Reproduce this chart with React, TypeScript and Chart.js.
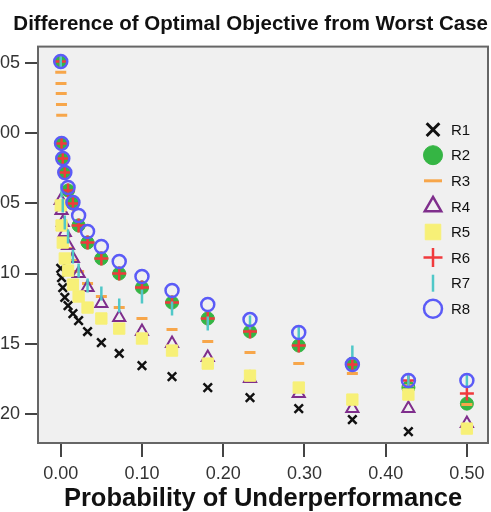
import React, { useEffect, useRef } from 'react';
import { Chart, registerables } from 'chart.js';
import { drawPoint } from 'chart.js/helpers';

Chart.register(...registerables);

const TITLE = 'Difference of Optimal Objective from Worst Case';
const X_TITLE = 'Probability of Underperformance';
const SERIES_NAMES = ['R1', 'R2', 'R3', 'R4', 'R5', 'R6', 'R7', 'R8'];

const X = [0, 0.001, 0.0025, 0.005, 0.009, 0.015, 0.022, 0.033, 0.05, 0.072, 0.1, 0.137, 0.181, 0.233, 0.293, 0.359, 0.428, 0.5];
const X_R3 = [0, 0.0003, 0.0006, 0.0009, 0.0012, 0.005, 0.009, 0.015, 0.022, 0.033, 0.05, 0.072, 0.1, 0.137, 0.181, 0.233, 0.293, 0.359, 0.428, 0.5];

const R1 = [-0.0964, -0.1029, -0.11, -0.1171, -0.1229, -0.1286, -0.1336, -0.1414, -0.1493, -0.1571, -0.1657, -0.1736, -0.1814, -0.1886, -0.1964, -0.2043, -0.2129, -0.2107];
const R2 = [0.0514, -0.0071, -0.0179, -0.0279, -0.0407, -0.05, -0.0657, -0.0779, -0.0893, -0.1, -0.11, -0.1207, -0.1321, -0.1414, -0.1514, -0.1643, -0.1814, -0.1929];
const R3 = [0.0436, 0.0357, 0.0286, 0.0207, 0.0129, -0.0736, -0.0821, -0.0907, -0.0986, -0.1071, -0.1164, -0.1243, -0.1321, -0.14, -0.1486, -0.1564, -0.1643, -0.1714, -0.18, -0.1936];
const R4 = [-0.0479, -0.055, -0.0636, -0.0707, -0.08, -0.0893, -0.1, -0.11, -0.1214, -0.1314, -0.1414, -0.15, -0.16, -0.175, -0.1857, -0.1964, -0.1964, -0.2071];
const R5 = [-0.0514, -0.0657, -0.0779, -0.0893, -0.0979, -0.1079, -0.1164, -0.1243, -0.1321, -0.1393, -0.1464, -0.155, -0.1643, -0.1729, -0.1814, -0.19, -0.1864, -0.2107];
const R6 = [0.0514, -0.0071, -0.0179, -0.0279, -0.0407, -0.05, -0.0657, -0.0779, -0.0893, -0.1, -0.11, -0.1207, -0.1321, -0.1414, -0.1514, -0.165, -0.1764, -0.1857];
const R7 = [0.0514, -0.0407, -0.0514, -0.0636, -0.0736, -0.0879, -0.0979, -0.1086, -0.1143, -0.1229, -0.1164, -0.125, -0.1357, -0.135, -0.1421, -0.1564, -0.1764, -0.1764];
const R8 = [0.0514, -0.0071, -0.0179, -0.0279, -0.0386, -0.0493, -0.0586, -0.07, -0.0807, -0.0914, -0.1021, -0.1121, -0.1221, -0.1329, -0.1421, -0.165, -0.1764, -0.1764];

const X_TICKS = [0, 0.1, 0.2, 0.3, 0.4, 0.5];
const X_TICK_LABELS = ['0.00', '0.10', '0.20', '0.30', '0.40', '0.50'];
const Y_TICKS = [-0.2, -0.15, -0.1, -0.05, 0, 0.05];
const Y_TICK_LABELS = ['-.20', '-.15', '-.10', '-.05', '.00', '.05'];

const SERIES_X = [X, X, X_R3, X, X, X, X, X];
const SERIES_Y = [R1, R2, R3, R4, R5, R6, R7, R8];

const STYLES = [
  { color: '#111111', fill: '#111111', style: 'crossRot', r: 6, bw: 2.5, rot: 0, lr: 9, lbw: 3 },
  { color: '#35b544', fill: '#35b544', style: 'circle', r: 6.5, bw: 1, rot: 0, lr: 9.5, lbw: 1 },
  { color: '#f7a64a', fill: '#f7a64a', style: 'line', r: 5.5, bw: 3, rot: 0, lr: 9, lbw: 3 },
  { color: '#7f2e8c', fill: 'rgba(0,0,0,0)', style: 'triangle', r: 7, bw: 2, rot: 0, lr: 9.5, lbw: 2.5 },
  { color: '#f7f077', fill: '#f7f077', style: 'rect', r: 8, bw: 1, rot: 0, lr: 11, lbw: 1 },
  { color: '#f03a3c', fill: '#f03a3c', style: 'cross', r: 7, bw: 2.5, rot: 0, lr: 9.5, lbw: 2.5 },
  { color: '#50c8c8', fill: '#50c8c8', style: 'line', r: 7, bw: 2.5, rot: 90, lr: 8.5, lbw: 2.5 },
  { color: '#5b5bf7', fill: 'rgba(0,0,0,0)', style: 'circle', r: 6.5, bw: 2.5, rot: 0, lr: 9, lbw: 2.5 },
];

const FONT = 'Arial, "Liberation Sans", Helvetica, sans-serif';

const plotFrame = {
  id: 'plotFrame',
  beforeDraw(chart: any) {
    const { ctx, chartArea: a } = chart;
    ctx.save();
    ctx.fillStyle = '#f0f0f0';
    ctx.fillRect(a.left, a.top, a.right - a.left, a.bottom - a.top);
    ctx.restore();
  },
  afterDatasetsDraw(chart: any) {
    const { ctx, chartArea: a } = chart;
    ctx.save();
    SERIES_NAMES.forEach((name, i) => {
      const s = STYLES[i];
      const cy = a.top + 83 + i * 25.6;
      const cx = a.right - 55;
      ctx.strokeStyle = s.color;
      ctx.fillStyle = s.fill;
      ctx.lineWidth = s.lbw;
      drawPoint(ctx, { pointStyle: s.style, rotation: s.rot, radius: s.lr, borderWidth: s.lbw } as any, cx, cy);
      ctx.fillStyle = '#111';
      ctx.font = '15px ' + FONT;
      ctx.textAlign = 'left';
      ctx.textBaseline = 'middle';
      ctx.fillText(name, a.right - 37, cy + 1);
    });
    ctx.strokeStyle = '#666';
    ctx.lineWidth = 2;
    ctx.strokeRect(a.left, a.top, a.right - a.left, a.bottom - a.top);
    ctx.restore();
  },
};

export default function App() {
  const ref = useRef<HTMLCanvasElement | null>(null);

  useEffect(() => {
    if (!ref.current) return;
    Chart.defaults.font.family = FONT;
    const datasets = SERIES_NAMES.map((name, i) => {
      const s = STYLES[i];
      return {
        label: name,
        data: SERIES_Y[i].map((y, j) => ({ x: SERIES_X[i][j], y })),
        showLine: false,
        pointStyle: s.style,
        pointRotation: s.rot,
        pointRadius: s.r,
        pointHoverRadius: s.r,
        pointBorderWidth: s.bw,
        pointBorderColor: s.color,
        pointBackgroundColor: s.fill,
        borderColor: s.color,
        backgroundColor: s.fill,
        order: SERIES_NAMES.length - i,
      };
    });
    const chart = new Chart(ref.current, {
      type: 'scatter',
      data: { datasets },
      plugins: [plotFrame],
      options: {
        animation: false,
        responsive: false,
        devicePixelRatio: 1,
        layout: { padding: { left: 0, right: 11, top: 0, bottom: 0 } },
        plugins: {
          legend: { display: false },
          tooltip: { enabled: false },
          title: {
            display: true,
            text: TITLE,
            align: 'end',
            color: '#111',
            font: { size: 20.5, weight: 'bold', family: FONT },
            padding: { top: 12, bottom: 10 },
          },
        },
        scales: {
          x: {
            type: 'linear',
            min: -0.028,
            max: 0.526,
            afterBuildTicks: (axis: any) => {
              axis.ticks = X_TICKS.map((v) => ({ value: v }));
            },
            afterFit: (axis: any) => {
              axis.height = 69;
              axis.paddingLeft = 0;
              axis.paddingRight = 0;
            },
            ticks: {
              color: '#333',
              font: { size: 18 },
              padding: 6,
              maxRotation: 0,
              callback: (v: any) => {
                const k = X_TICKS.findIndex((t) => Math.abs(t - v) < 1e-9);
                return k >= 0 ? X_TICK_LABELS[k] : '';
              },
            },
            grid: { drawOnChartArea: false, drawTicks: true, tickLength: 14, color: '#444', lineWidth: 2 },
            border: { display: false },
            title: {
              display: true,
              text: X_TITLE,
              color: '#111',
              font: { size: 25.5, weight: 'bold', lineHeight: 1 },
              padding: { top: 0, bottom: 0 },
            },
          },
          y: {
            type: 'linear',
            min: -0.221,
            max: 0.062,
            afterBuildTicks: (axis: any) => {
              axis.ticks = Y_TICKS.map((v) => ({ value: v }));
            },
            afterFit: (axis: any) => {
              axis.width = 38;
              axis.paddingTop = 0;
              axis.paddingBottom = 0;
            },
            ticks: {
              color: '#333',
              font: { size: 18 },
              padding: 5,
              callback: (v: any) => {
                const k = Y_TICKS.findIndex((t) => Math.abs(t - v) < 1e-9);
                return k >= 0 ? Y_TICK_LABELS[k] : '';
              },
            },
            grid: { drawOnChartArea: false, drawTicks: true, tickLength: 13, color: '#444', lineWidth: 2 },
            border: { display: false },
          },
        },
      } as any,
    });
    return () => chart.destroy();
  }, []);

  return (
    <div style={{ position: 'absolute', left: 0, top: 0, width: 491, height: 512, overflow: 'hidden', background: '#fff' }}>
      <canvas ref={ref} width={499} height={512} style={{ position: 'absolute', left: 0, top: 0, width: 499, height: 512 }} />
    </div>
  );
}
